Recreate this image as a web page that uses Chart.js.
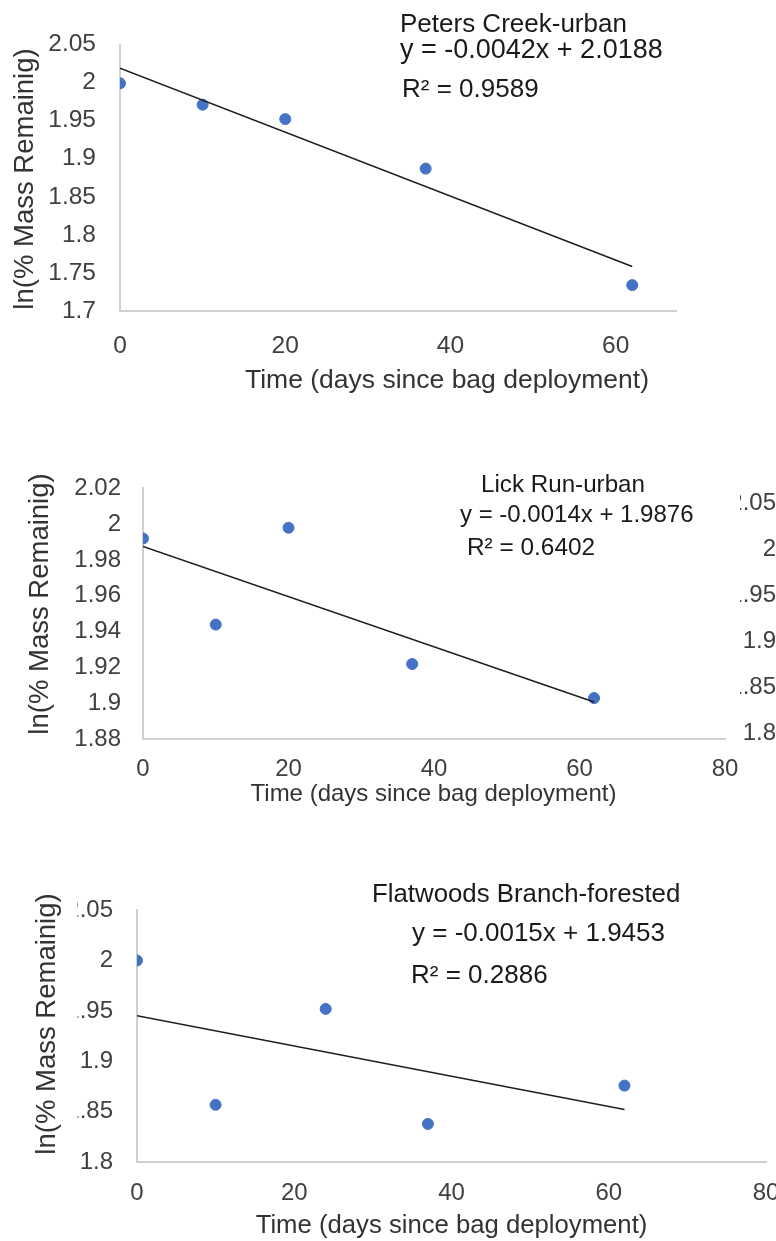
<!DOCTYPE html>
<html>
<head>
<meta charset="utf-8">
<script src="https://cdn.jsdelivr.net/npm/chart.js@4.4.1/dist/chart.umd.min.js"></script>
<style>
  html, body { margin: 0; padding: 0; background: #fff; overflow: hidden; }
  body { position: relative; width: 776px; height: 1241px; }
  canvas { position: absolute; left: 0; }
</style>
</head>
<body>
<canvas id="peters" width="776" height="410" style="top:0px"></canvas>
<canvas id="lick" width="776" height="360" style="top:455px"></canvas>
<canvas id="flatwoods" width="790" height="406" style="top:835px"></canvas>
<script>
// Dados
const petersDays = [0, 10, 20, 37, 62];
const petersMass = [1.999, 1.971, 1.952, 1.887, 1.734];
const petersTrendDays = [0, 62];
const petersTrendMass = [2.0188, 1.7584];
const petersLabels = ['Peters Creek-urban', 'y = -0.0042x + 2.0188', 'R² = 0.9589'];
const petersXTicks = [0, 20, 40, 60];
const petersYTicks = [1.7, 1.75, 1.8, 1.85, 1.9, 1.95, 2, 2.05];

const lickDays = [0, 10, 20, 37, 62];
const lickMass = [1.992, 1.944, 1.998, 1.922, 1.903];
const lickTrendDays = [0, 62];
const lickTrendMass = [1.9876, 1.9008];
const lickLabels = ['Lick Run-urban', 'y = -0.0014x + 1.9876', 'R² = 0.6402'];
const lickXTicks = [0, 20, 40, 60, 80];
const lickYTicks = [1.88, 1.9, 1.92, 1.94, 1.96, 1.98, 2, 2.02];
// eixo da figura de baixo que aparece cortado à direita
const lickRightTicks = [1.8, 1.85, 1.9, 1.95, 2, 2.05];

const flatDays = [0, 10, 24, 37, 62];
const flatMass = [2.0, 1.857, 1.952, 1.838, 1.876];
const flatTrendDays = [0, 62];
const flatTrendMass = [1.9453, 1.8523];
const flatLabels = ['Flatwoods Branch-forested', 'y = -0.0015x + 1.9453', 'R² = 0.2886'];
const flatXTicks = [0, 20, 40, 60, 80];
const flatYTicks = [1.8, 1.85, 1.9, 1.95, 2, 2.05];

const xTitle = 'Time (days since bag deployment)';
const yTitle = 'ln(% Mass Remainig)';

const FONT = '"Liberation Sans", Arial, Helvetica, sans-serif';
const TICK_COLOR = '#404040';
const AXIS_COLOR = '#d0d0d0';
const DOT_COLOR = '#4472C4';

function fmt(v) {
    return String(+v.toFixed(2));
}

function points(xs, ys) {
    return xs.map((x, i) => ({ x: x, y: ys[i] }));
}

// Textos livres e máscaras brancas (partes cortadas da figura original)
function notesPlugin(items, masks) {
    return {
        id: 'notes',
        afterDraw(chart) {
            const ctx = chart.ctx;
            ctx.save();
            (masks || []).forEach(m => {
                ctx.fillStyle = '#fff';
                ctx.fillRect(m.x, m.y, m.w, m.h);
            });
            items.forEach(it => {
                ctx.save();
                ctx.font = it.size + 'px ' + FONT;
                ctx.fillStyle = it.color || '#1a1a1a';
                ctx.textAlign = it.align || 'left';
                ctx.textBaseline = it.baseline || 'alphabetic';
                ctx.translate(it.x, it.y);
                if (it.rotate) ctx.rotate(-Math.PI / 2);
                ctx.fillText(it.text, 0, 0);
                ctx.restore();
            });
            ctx.restore();
        }
    };
}

function makeChart(id, o) {
    const scales = {
        x: {
            type: 'linear',
            min: 0,
            max: o.xMax,
            grid: { display: false },
            border: { color: AXIS_COLOR, width: 2 },
            ticks: { padding: o.xPad, color: TICK_COLOR, font: { family: FONT, size: o.tickSize } },
            afterBuildTicks: s => { s.ticks = o.xTicks.map(v => ({ value: v })); },
            afterFit: s => { s.height = o.xHeight; }
        },
        y: {
            type: 'linear',
            min: o.yMin,
            max: o.yMax,
            grid: { display: false },
            border: { color: AXIS_COLOR, width: 2 },
            ticks: {
                padding: o.yPad, color: TICK_COLOR, font: { family: FONT, size: o.tickSize },
                callback: v => fmt(v)
            },
            afterBuildTicks: s => { s.ticks = o.yTicks.map(v => ({ value: v })); },
            afterFit: s => { s.width = o.yWidth; }
        }
    };
    if (o.right) {
        scales.yR = {
            type: 'linear',
            position: 'right',
            min: o.right.min,
            max: o.right.max,
            grid: { display: false },
            border: { display: false },
            ticks: {
                padding: o.right.pad, crossAlign: 'far', color: TICK_COLOR,
                font: { family: FONT, size: o.tickSize },
                callback: v => fmt(v)
            },
            afterBuildTicks: s => { s.ticks = o.right.ticks.map(v => ({ value: v })); },
            afterFit: s => { s.width = o.right.width; }
        };
    }

    return new Chart(document.getElementById(id), {
        type: 'scatter',
        data: {
            datasets: [{
                data: points(o.trendX, o.trendY),
                showLine: true,
                borderColor: '#1e1e1e',
                borderWidth: 1.5,
                pointRadius: 0,
                pointHoverRadius: 0,
                fill: false
            }, {
                data: points(o.x, o.y),
                backgroundColor: DOT_COLOR,
                borderColor: DOT_COLOR,
                borderWidth: 1,
                pointRadius: 5.5,
                pointHoverRadius: 5.5
            }]
        },
        options: {
            responsive: false,
            animation: false,
            devicePixelRatio: 1,
            layout: { padding: o.padding },
            plugins: { legend: { display: false }, tooltip: { enabled: false } },
            scales: scales
        },
        plugins: [notesPlugin(o.notes, o.masks)]
    });
}

// Peters Creek
makeChart('peters', {
    x: petersDays, y: petersMass, trendX: petersTrendDays, trendY: petersTrendMass,
    xMax: 67.3, xTicks: petersXTicks, yMin: 1.7, yMax: 2.05, yTicks: petersYTicks,
    padding: { top: 44.5, right: 100, left: 0, bottom: 0 },
    xHeight: 99, yWidth: 120, xPad: 12.5, yPad: 16, tickSize: 24.5,
    notes: [
        { text: petersLabels[0], x: 400, y: 32, size: 26 },
        { text: petersLabels[1], x: 400, y: 57.5, size: 27 },
        { text: petersLabels[2], x: 402, y: 97, size: 26 },
        { text: xTitle, x: 447, y: 388, size: 26.5, align: 'center', color: '#333' },
        { text: yTitle, x: 25, y: 179, size: 27.5, align: 'center', baseline: 'middle', rotate: true, color: '#333' }
    ]
});

// Lick Run
makeChart('lick', {
    x: lickDays, y: lickMass, trendX: lickTrendDays, trendY: lickTrendMass,
    xMax: 80, xTicks: lickXTicks, yMin: 1.88, yMax: 2.02, yTicks: lickYTicks,
    padding: { top: 33.3, right: 0, left: 0, bottom: 0 },
    xHeight: 75.7, yWidth: 143, xPad: 7.3, yPad: 14, tickSize: 24,
    right: { min: 1.7935, max: 2.066, ticks: lickRightTicks, width: 51, pad: 1 },
    masks: [{ x: 726, y: 30, w: 14, h: 245 }],
    notes: [
        { text: lickLabels[0], x: 481, y: 37, size: 24.2 },
        { text: lickLabels[1], x: 460, y: 67, size: 24 },
        { text: lickLabels[2], x: 467, y: 100, size: 24.4 },
        { text: xTitle, x: 433.5, y: 346, size: 24, align: 'center', color: '#333' },
        { text: yTitle, x: 40, y: 149, size: 27.5, align: 'center', baseline: 'middle', rotate: true, color: '#333' }
    ]
});

// Flatwoods Branch
makeChart('flatwoods', {
    x: flatDays, y: flatMass, trendX: flatTrendDays, trendY: flatTrendMass,
    xMax: 80, xTicks: flatXTicks, yMin: 1.8, yMax: 2.05, yTicks: flatYTicks,
    padding: { top: 75, right: 24, left: 0, bottom: 0 },
    xHeight: 78.7, yWidth: 137, xPad: 8.5, yPad: 16, tickSize: 24,
    masks: [{ x: 62, y: 60, w: 15.5, h: 285 }],
    notes: [
        { text: flatLabels[0], x: 372, y: 67, size: 25.8 },
        { text: flatLabels[1], x: 412, y: 106, size: 26 },
        { text: flatLabels[2], x: 411, y: 148, size: 26 },
        { text: xTitle, x: 451.5, y: 398, size: 25.7, align: 'center', color: '#333' },
        { text: yTitle, x: 47.5, y: 189, size: 27.5, align: 'center', baseline: 'middle', rotate: true, color: '#333' }
    ]
});
</script>
</body>
</html>
